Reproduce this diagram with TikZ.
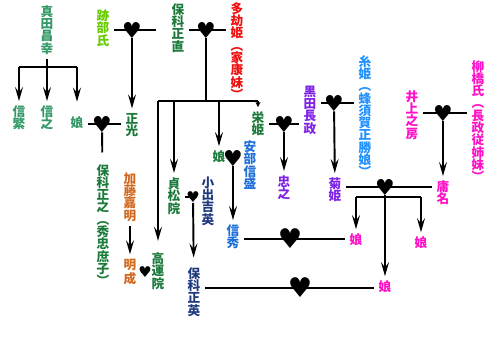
\documentclass[tikz,border=0pt]{standalone}
\usepackage{fontspec}
\usetikzlibrary{arrows.meta}
\newfontfamily\jp{Noto Sans CJK JP}
\newfontfamily\dejavu{DejaVu Sans}
\definecolor{sanadagreen}{HTML}{339966}
\definecolor{limegreen}{HTML}{66CC00}
\definecolor{darkgreen}{HTML}{1A7A3A}
\definecolor{kinred}{HTML}{F01010}
\definecolor{katoorange}{HTML}{D2691E}
\definecolor{abeblue}{HTML}{1E6FD9}
\definecolor{skyblue}{HTML}{1E90FF}
\definecolor{koidenavy}{HTML}{203A80}
\definecolor{kurodapurple}{HTML}{8022E6}
\definecolor{pinkmag}{HTML}{FF10C8}

\begin{document}
\begin{tikzpicture}[x=0.02cm, y=-0.02cm,
  person/.style={font=\jp\bfseries\fontsize{7.2}{7}\selectfont, align=center, inner sep=2.5pt},
  wed/.style={font=\dejavu\fontsize{12.5}{12}\selectfont, inner sep=0pt},
  bigwed/.style={font=\dejavu\fontsize{15.5}{14}\selectfont, inner sep=0pt},
  smallwed/.style={font=\dejavu\fontsize{8.5}{8}\selectfont, inner sep=0pt},
  tie/.style={line width=1.1pt},
  kid/.style={tie, -{Stealth[length=8pt,width=4.5pt,inset=3pt]}}
]
  \fill[white] (0,0) rectangle (500,346);
  \useasboundingbox (0,0) rectangle (500,346);

  % Sanada family
  \node[person, sanadagreen] (sanada) at (47,30) {真\\田\\昌\\幸};
  \node[person, sanadagreen] (nobushige) at (19,118) {信\\繁};
  \node[person, sanadagreen] (nobuyuki) at (47,118) {信\\之};
  \node[person, sanadagreen] (sanadamusume) at (77,123) {娘};
  \coordinate (sanadabar) at (47,67);
  \draw[tie] (sanada) -- (sanadabar);
  \draw[tie] (nobushige |- sanadabar) -- (sanadamusume |- sanadabar);
  \draw[kid] (nobushige |- sanadabar) -- (nobushige);
  \draw[kid] (nobuyuki |- sanadabar) -- (nobuyuki);
  \draw[kid, shorten >=6pt] (sanadamusume |- sanadabar) -- (sanadamusume);

  % Hoshina Masanao
  \node[person, limegreen] (atobe) at (103,28) {跡\\部\\氏};
  \node[person, darkgreen] (masanao) at (178,28) {保\\科\\正\\直};
  \node[person, kinred] (takuhime) at (237,51) {多\\劫\\姫\\︵\\家\\康\\妹\\︶};
  \node[wed] (h1) at (132,30) {♥};
  \node[wed] (h2) at (206,30) {♥};
  \draw[tie, shorten >=6pt] (h1 -| atobe.east) -- (h1 -| masanao.west);
  \draw[tie] (h2 -| masanao.east) -- (h2 -| takuhime.west);
  \node[person, darkgreen] (masamitsu) at (132,125) {正\\光};
  \draw[kid] (h1) -- (masamitsu);

  % Masanao's children
  \coordinate (zbar) at (206,101);
  \node[person, darkgreen] (kouunin) at (158,271) {高\\運\\院};
  \node[person, darkgreen] (teishoin) at (174,196) {貞\\松\\院};
  \node[person, darkgreen] (musume2) at (219,157) {娘};
  \node[person, darkgreen] (eihime) at (258,124) {栄\\姫};
  \draw[tie] (h2) -- (zbar);
  \draw[tie] (kouunin |- zbar) -- (eihime |- zbar);
  \draw[kid, shorten >=4pt] (kouunin |- zbar) -- (kouunin);
  \draw[kid] (teishoin |- zbar) -- (teishoin);
  \draw[kid] (musume2 |- zbar) -- (musume2);
  \draw[tie, -{Stealth[length=3pt,width=3pt]}] (eihime |- zbar) -- (eihime);

  % Hoshina Masayuki
  \node[wed] (h3) at (102,124) {♥};
  \draw[tie] (h3 -| sanadamusume.east) -- (h3 -| masamitsu.west);
  \node[person, darkgreen] (masayuki) at (103,225) {保\\科\\正\\之\\︵\\秀\\忠\\庶\\子\\︶};
  \draw[tie, shorten >=4pt] (h3) -- (masayuki);

  % Kato
  \node[person, katoorange] (yoshiaki) at (130,197) {加\\藤\\嘉\\明};
  \node[person, katoorange] (akinari) at (130,272) {明\\成};
  \draw[kid] (yoshiaki) -- (akinari);
  \node[smallwed] (h4) at (145,272) {♥};
  \draw[tie] (h4 -| akinari.east) -- (h4 -| kouunin.west);

  % Koide
  \node[person, koidenavy] (koide) at (208,201) {小\\出\\吉\\英};
  \node[person, koidenavy] (masahide) at (194,292) {保\\科\\正\\英};
  \node[smallwed] (h12) at (193,197) {♥};
  \draw[tie] (h12 -| teishoin.east) -- (h12 -| koide.west);
  \draw[kid, shorten >=3pt] (h12) -- (masahide);

  % Abe
  \node[person, abeblue] (abe) at (250,165) {安\\部\\信\\盛};
  \node[person, abeblue] (nobuhide) at (233,237) {信\\秀};
  \node[wed] (h5) at (233,158) {♥};
  \draw[tie] (h5 -| musume2.east) -- (h5 -| abe.west);
  \draw[kid] (h5) -- (nobuhide);

  % Kuroda
  \node[person, kurodapurple] (nagamasa) at (310,110) {黒\\田\\長\\政};
  \node[person, kurodapurple] (tadayuki) at (284,188) {忠\\之};
  \node[person, skyblue] (itohime) at (365,116) {糸\\姫\\︵\\蜂\\須\\賀\\正\\勝\\娘\\︶};
  \node[person, kurodapurple] (kikuhime) at (335,190) {菊\\姫};
  \node[wed] (h7) at (284,124) {♥};
  \node[wed] (h8) at (334,103) {♥};
  \draw[tie] (h7 -| eihime.east) -- (h7 -| nagamasa.west);
  \draw[tie] (h8 -| nagamasa.east) -- (h8 -| itohime.west);
  \draw[kid] (h7) -- (tadayuki);
  \draw[kid] (h8) -- (kikuhime);

  % Inoue
  \node[person, pinkmag] (inoue) at (412,115) {井\\上\\之\\房};
  \node[person, pinkmag] (yanagi) at (478,121) {柳\\橋\\氏\\︵\\長\\政\\従\\姉\\妹\\︶};
  \node[person, pinkmag] (tsunena) at (443,193) {庸\\名};
  \node[wed] (h9) at (443,113) {♥};
  \draw[tie] (h9 -| inoue.east) -- (h9 -| yanagi.west);
  \draw[kid] (h9) -- (tsunena);

  % Kikuhime's daughters
  \node[wed] (h10) at (385,187) {♥};
  \draw[tie] (h10 -| kikuhime.east) -- (h10 -| tsunena.west);
  \coordinate (kbar) at (385,197);
  \node[person, pinkmag] (musume3) at (356,240) {娘};
  \node[person, pinkmag] (musume4) at (421,243) {娘};
  \node[person, pinkmag] (musume5) at (385,287) {娘};
  \draw[tie] (h10) -- (kbar);
  \draw[tie] (musume3 |- kbar) -- (musume4 |- kbar);
  \draw[kid] (musume3 |- kbar) -- (musume3);
  \draw[kid] (musume4 |- kbar) -- (musume4);
  \draw[kid] (kbar) -- (musume5);

  % later marriages
  \node[bigwed] (h6) at (290,239) {♥};
  \draw[tie] (h6 -| nobuhide.east) -- (h6 -| musume3.west);
  \node[bigwed] (h11) at (300,288) {♥};
  \draw[tie] (h11 -| masahide.east) -- (h11 -| musume5.west);
\end{tikzpicture}
\end{document}
